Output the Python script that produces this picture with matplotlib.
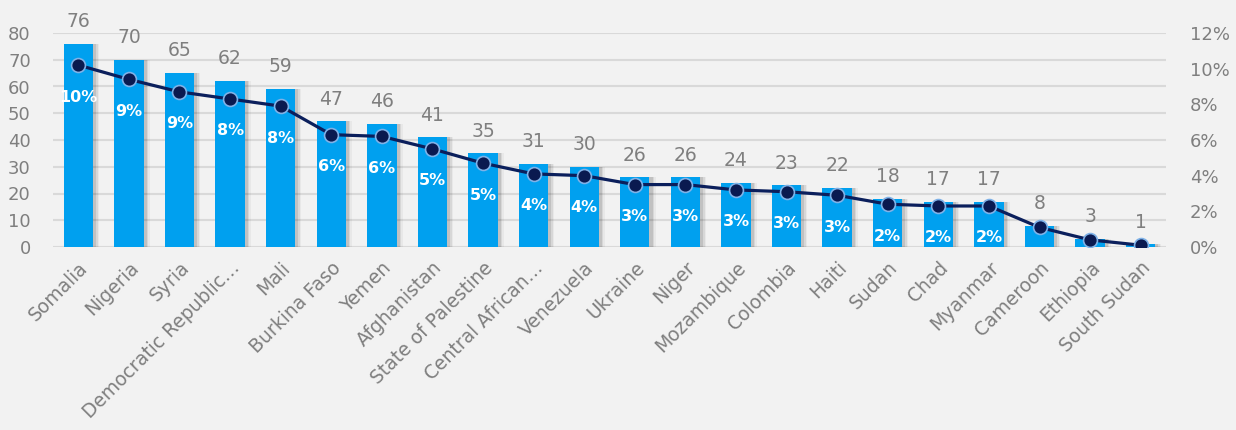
import matplotlib.pyplot as plt
from matplotlib.ticker import FuncFormatter
import numpy as np

plt.rcParams['font.family'] = ['DejaVu Sans']

# data
countries = ["Somalia", "Nigeria", "Syria", "Democratic Republic…", "Mali", "Burkina Faso",
             "Yemen", "Afghanistan", "State of Palestine", "Central African…", "Venezuela",
             "Ukraine", "Niger", "Mozambique", "Colombia", "Haiti", "Sudan", "Chad",
             "Myanmar", "Cameroon", "Ethiopia", "South Sudan"]
counts = [76, 70, 65, 62, 59, 47, 46, 41, 35, 31, 30, 26, 26, 24, 23, 22, 18, 17, 17, 8, 3, 1]
shares = [10.2, 9.4, 8.7, 8.3, 7.9, 6.3, 6.2, 5.5, 4.7, 4.1, 4.0, 3.5, 3.5, 3.2, 3.1, 2.9,
          2.4, 2.3, 2.3, 1.1, 0.4, 0.1]
share_labels = ["10%", "9%", "9%", "8%", "8%", "6%", "6%", "5%", "5%", "4%", "4%", "3%",
                "3%", "3%", "3%", "3%", "2%", "2%", "2%", "", "", ""]

bg = "#f2f2f2"
grey = "#7f7f7f"
bar_color = "#00a0ef"
line_color = "#0b1f5c"

fig = plt.figure(figsize=(12.36, 4.30), dpi=100, facecolor=bg)
ax = fig.add_axes([53 / 1236, (430 - 247) / 430, (1166 - 53) / 1236, (247 - 33) / 430])
ax.set_facecolor(bg)

x = np.arange(len(countries))

# soft shadow to the right of each bar
for k, a in enumerate([0.10, 0.07, 0.04]):
    ax.bar(x + 0.06 + 0.03 * k, counts, width=0.58, color="#000000", alpha=a, zorder=1,
           linewidth=0)
ax.bar(x, counts, width=0.58, color=bar_color, zorder=2, linewidth=0)

for xi, c in zip(x, counts):
    ax.annotate(str(c), (xi, c), xytext=(0, 16), textcoords="offset points",
                ha="center", va="center", fontsize=13.5, color=grey)

ax.set_xlim(-0.5, len(countries) - 0.5)
ax.set_ylim(0, 80)
ax.set_yticks(range(0, 81, 10))
ax.grid(axis="y", color="#d9d9d9", linewidth=1.5, zorder=0)
ax.set_axisbelow(True)
for s in ax.spines.values():
    s.set_visible(False)
ax.tick_params(axis="y", length=0, pad=16, labelsize=13, labelcolor=grey)
ax.set_xticks(x)
ax.set_xticklabels(countries, rotation=45, ha="right", rotation_mode="anchor")
ax.tick_params(axis="x", length=0, pad=8, labelsize=13.5, labelcolor=grey)

ax2 = ax.twinx()
ax2.set_ylim(0, 12)
ax2.set_yticks(range(0, 13, 2))
ax2.yaxis.set_major_formatter(FuncFormatter(lambda v, p: f"{v:.0f}%"))
for s in ax2.spines.values():
    s.set_visible(False)
ax2.tick_params(axis="y", length=0, pad=17, labelsize=13, labelcolor=grey)
ax2.plot(x, shares, color=line_color, linewidth=2.3, marker="o", markersize=10,
         markerfacecolor="#0a1a50", markeredgecolor="#7fb2e8", markeredgewidth=1.2, zorder=3)

for xi, s, lab in zip(x, shares, share_labels):
    if lab:
        ax2.annotate(lab, (xi, s), xytext=(0, -23), textcoords="offset points",
                     ha="center", va="center", fontsize=11.5, fontweight="bold", color="white")

fig.savefig("out.png", dpi=100, facecolor=bg)
